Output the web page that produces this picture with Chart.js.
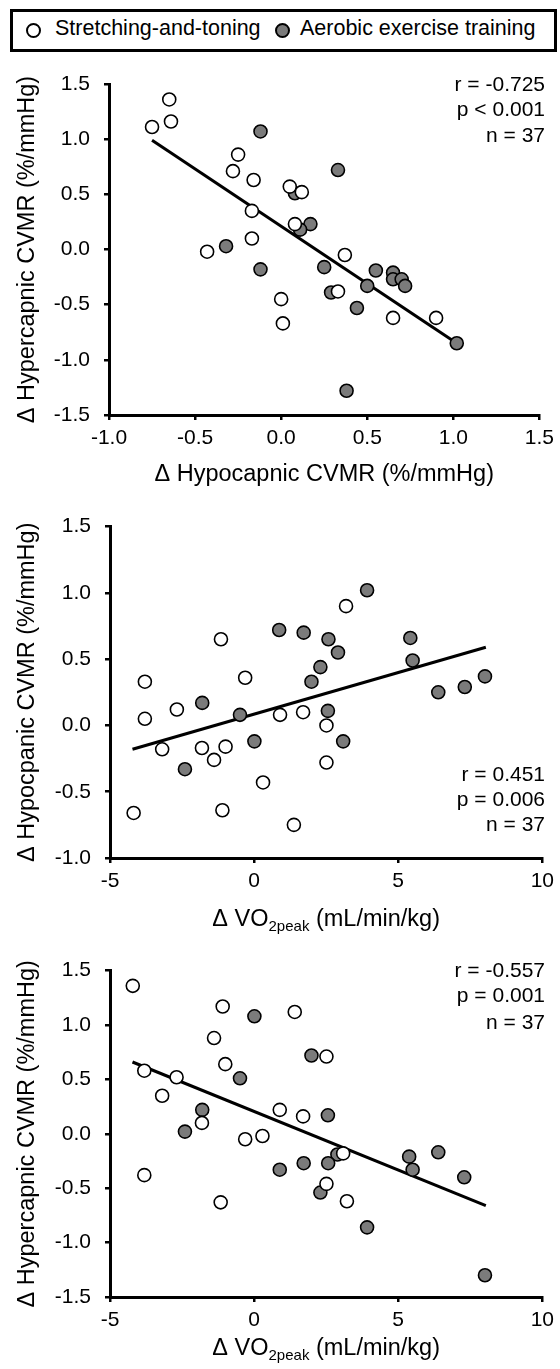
<!DOCTYPE html>
<html>
<head>
<meta charset="utf-8">
<script src="https://cdn.jsdelivr.net/npm/chart.js@4.4.0/dist/chart.umd.min.js"></script>
<style>
  body { margin: 0; background: #fff; }
  #page { position: relative; width: 560px; height: 1369px; overflow: hidden; font-family: 'Liberation Sans', Arial, sans-serif; color: #000; }
  .legend { position: absolute; left: 10px; top: 9px; width: 541px; height: 37px; border: 3px solid #000; }
  .legend .dot { position: absolute; top: 11px; width: 11px; height: 11px; border: 2px solid #000; border-radius: 50%; }
  .legend .txt { position: absolute; top: 4px; font-size: 21.5px; white-space: nowrap; }
  canvas { position: absolute; left: 0; }
</style>
</head>
<body>
<div id="page">
  <div class="legend">
    <span class="dot" style="left:13px;background:#fff"></span>
    <span class="txt" style="left:42px">Stretching-and-toning</span>
    <span class="dot" style="left:262px;background:#7b7b7b"></span>
    <span class="txt" style="left:287px">Aerobic exercise training</span>
  </div>
  <canvas id="c1" width="560" height="440" style="top:56px"></canvas>
  <canvas id="c2" width="560" height="440" style="top:500px"></canvas>
  <canvas id="c3" width="560" height="425" style="top:944px"></canvas>
</div>
<script>
// Panel 1: change in hypocapnic vs hypercapnic CVMR
const p1StretchX = [-0.75, -0.65, -0.64, -0.25, -0.28, -0.16, 0.05, 0.12, -0.17, 0.08, -0.17, -0.43, 0.37, 0.33, 0.00, 0.65, 0.90, 0.01];
const p1StretchY = [1.11, 1.36, 1.16, 0.86, 0.71, 0.63, 0.57, 0.52, 0.35, 0.23, 0.10, -0.02, -0.05, -0.38, -0.45, -0.62, -0.62, -0.67];
const p1AerobicX = [-0.12, 0.33, 0.08, 0.17, 0.11, -0.32, -0.12, 0.25, 0.55, 0.65, 0.65, 0.70, 0.72, 0.50, 0.29, 0.44, 1.02, 0.38];
const p1AerobicY = [1.07, 0.72, 0.51, 0.23, 0.18, 0.03, -0.18, -0.16, -0.19, -0.21, -0.27, -0.27, -0.33, -0.33, -0.39, -0.53, -0.85, -1.28];
const p1FitX = [-0.75, 1.02];
const p1FitY = [0.99, -0.85];
const p1XTicks = [-1.0, -0.5, 0.0, 0.5, 1.0, 1.5];
const p1YTicks = [-1.5, -1.0, -0.5, 0.0, 0.5, 1.0, 1.5];
const p1Stats = ['r = -0.725', 'p < 0.001', 'n = 37'];

// Panel 2: change in VO2peak vs hypocapnic CVMR
const p2StretchX = [3.19, -1.15, -3.79, -0.31, -3.79, -2.68, 0.90, 1.70, 2.51, -3.19, -1.81, -0.99, -1.39, 2.51, 0.31, -4.18, -1.10, 1.38];
const p2StretchY = [0.90, 0.65, 0.33, 0.36, 0.05, 0.12, 0.08, 0.10, 0.00, -0.18, -0.17, -0.16, -0.26, -0.28, -0.43, -0.66, -0.64, -0.75];
const p2AerobicX = [3.92, 0.87, 1.72, 2.58, 5.42, 2.91, 5.50, 2.30, 1.99, 8.01, 7.31, 6.39, -1.80, -0.49, 2.56, 0.01, 3.09, -2.40];
const p2AerobicY = [1.02, 0.72, 0.70, 0.65, 0.66, 0.55, 0.49, 0.44, 0.33, 0.37, 0.29, 0.25, 0.17, 0.08, 0.11, -0.12, -0.12, -0.33];
const p2FitX = [-4.22, 8.04];
const p2FitY = [-0.18, 0.59];
const p2XTicks = [-5, 0, 5, 10];
const p2YTicks = [-1.0, -0.5, 0.0, 0.5, 1.0, 1.5];
const p2Stats = ['r = 0.451', 'p = 0.006', 'n = 37'];

// Panel 3: change in VO2peak vs hypercapnic CVMR
const p3StretchX = [-4.21, -1.09, 1.41, -1.39, 2.51, -1.00, -3.81, -2.69, -3.19, -1.81, 0.89, 1.70, -0.31, 0.29, 3.09, -3.81, 2.51, -1.16, 3.22];
const p3StretchY = [1.36, 1.17, 1.12, 0.88, 0.71, 0.64, 0.58, 0.52, 0.35, 0.10, 0.22, 0.16, -0.05, -0.02, -0.18, -0.38, -0.46, -0.63, -0.62];
const p3AerobicX = [0.01, 1.99, -0.49, -1.80, -2.40, 2.56, 2.89, 5.38, 6.39, 5.50, 0.89, 1.72, 2.57, 7.29, 2.30, 3.92, 8.01];
const p3AerobicY = [1.08, 0.72, 0.51, 0.22, 0.02, 0.17, -0.19, -0.21, -0.17, -0.33, -0.33, -0.27, -0.27, -0.40, -0.54, -0.86, -1.30];
const p3FitX = [-4.22, 8.04];
const p3FitY = [0.66, -0.66];
const p3XTicks = [-5, 0, 5, 10];
const p3YTicks = [-1.5, -1.0, -0.5, 0.0, 0.5, 1.0, 1.5];
const p3Stats = ['r = -0.557', 'p = 0.001', 'n = 37'];

const FONT = "'Liberation Sans', Arial, sans-serif";
const AEROBIC_FILL = '#7b7b7b';

function pts(xs, ys) {
    return xs.map((x, i) => ({ x: x, y: ys[i] }));
}

// stats text + optional VO2peak title with subscript
const annotPlugin = {
    id: 'annot',
    afterDraw(chart, args, o) {
        const ctx = chart.ctx;
        const a = chart.chartArea;
        ctx.save();
        ctx.fillStyle = '#000';
        ctx.font = '21px ' + FONT;
        ctx.textAlign = 'right';
        ctx.textBaseline = 'middle';
        o.lines.forEach((t, i) => {
            const base = o.fromBottom ? a.bottom : a.top;
            ctx.fillText(t, 545, base + o.offsets[i]);
        });
        if (o.vo2Title) {
            const big = '23.5px ' + FONT, small = '15px ' + FONT;
            const p1 = '\u0394 VO', sub = '2peak', p3 = ' (mL/min/kg)';
            ctx.font = big; const w1 = ctx.measureText(p1).width, w3 = ctx.measureText(p3).width;
            ctx.font = small; const w2 = ctx.measureText(sub).width;
            let x = (a.left + a.right) / 2 - (w1 + w2 + w3) / 2;
            const y = a.bottom + o.titleOffset;
            ctx.textAlign = 'left';
            ctx.font = big; ctx.fillText(p1, x, y); x += w1;
            ctx.font = small; ctx.fillText(sub, x, y + 7); x += w2;
            ctx.font = big; ctx.fillText(p3, x, y);
        }
        ctx.restore();
    }
};

function buildChart(id, p) {
    const tickFont = { family: FONT, size: 21 };
    const titleFont = { family: FONT, size: 23.5 };
    const grid = { display: true, drawOnChartArea: false, drawTicks: true, tickLength: 5, color: '#000', lineWidth: 2.5 };
    const border = { display: true, color: '#000', width: 3 };
    return new Chart(document.getElementById(id), {
        type: 'scatter',
        data: {
            datasets: [
                { label: 'Stretching-and-toning', data: pts(p.sx, p.sy), backgroundColor: '#fff', borderColor: '#000', borderWidth: 1.6, pointRadius: 6.5, order: 1 },
                { label: 'Aerobic exercise training', data: pts(p.ax, p.ay), backgroundColor: AEROBIC_FILL, borderColor: '#000', borderWidth: 1.6, pointRadius: 6.5, order: 1 },
                { type: 'line', label: 'fit', data: pts(p.fx, p.fy), borderColor: '#000', borderWidth: 3, pointRadius: 0, fill: false, order: 2 }
            ]
        },
        options: {
            responsive: false,
            animation: false,
            events: [],
            layout: { padding: { top: p.padTop, right: 560 - p.right, left: 0, bottom: 0 } },
            plugins: {
                legend: { display: false },
                tooltip: { enabled: false },
                annot: p.annot
            },
            scales: {
                x: {
                    type: 'linear',
                    min: p.xTicks[0],
                    max: p.xTicks[p.xTicks.length - 1],
                    afterBuildTicks: s => { s.ticks = p.xTicks.map(v => ({ value: v })); },
                    afterFit: s => { s.height = p.xh; },
                    ticks: { font: tickFont, color: '#000', padding: 6, maxRotation: 0, callback: p.xFmt },
                    grid: grid,
                    border: border,
                    title: { display: !!p.xTitle, text: p.xTitle || '', font: titleFont, color: '#000', padding: { top: 0, bottom: p.xTitlePad } }
                },
                y: {
                    type: 'linear',
                    min: p.yTicks[0],
                    max: p.yTicks[p.yTicks.length - 1],
                    afterBuildTicks: s => { s.ticks = p.yTicks.map(v => ({ value: v })); },
                    afterFit: s => { s.width = p.left; },
                    ticks: { font: tickFont, color: '#000', padding: 14, callback: v => v.toFixed(1) },
                    grid: grid,
                    border: border,
                    title: { display: true, text: p.yTitle, font: titleFont, color: '#000', padding: { top: 13, bottom: 0 } }
                }
            }
        },
        plugins: [annotPlugin]
    });
}

buildChart('c1', {
    sx: p1StretchX, sy: p1StretchY, ax: p1AerobicX, ay: p1AerobicY, fx: p1FitX, fy: p1FitY,
    xTicks: p1XTicks, yTicks: p1YTicks, xFmt: v => v.toFixed(1),
    left: 109, right: 544, padTop: 28, xh: 81, xTitlePad: 7,
    xTitle: '\u0394 Hypocapnic CVMR (%/mmHg)',
    yTitle: '\u0394 Hypercapnic CVMR (%/mmHg)',
    annot: { lines: p1Stats, offsets: [1, 26, 52], fromBottom: false }
});

buildChart('c2', {
    sx: p2StretchX, sy: p2StretchY, ax: p2AerobicX, ay: p2AerobicY, fx: p2FitX, fy: p2FitY,
    xTicks: p2XTicks, yTicks: p2YTicks, xFmt: v => String(v),
    left: 110, right: 548, padTop: 26, xh: 82, xTitlePad: 0,
    xTitle: null,
    yTitle: '\u0394 Hypocpanic CVMR (%/mmHg)',
    annot: { lines: p2Stats, offsets: [-83, -58, -33], fromBottom: true, vo2Title: true, titleOffset: 62 }
});

buildChart('c3', {
    sx: p3StretchX, sy: p3StretchY, ax: p3AerobicX, ay: p3AerobicY, fx: p3FitX, fy: p3FitY,
    xTicks: p3XTicks, yTicks: p3YTicks, xFmt: v => String(v),
    left: 110, right: 548, padTop: 23, xh: 72, xTitlePad: 0,
    xTitle: null,
    yTitle: '\u0394 Hypercapnic CVMR (%/mmHg)',
    annot: { lines: p3Stats, offsets: [1, 26, 53], fromBottom: false, vo2Title: true, titleOffset: 52 }
});
</script>
</body>
</html>
